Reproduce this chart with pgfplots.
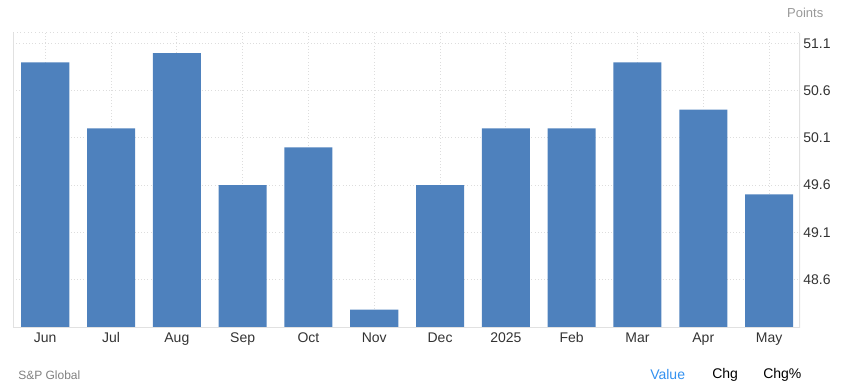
\documentclass[border=0pt]{standalone}
\usepackage{pgfplots}
\pgfplotsset{compat=1.18}
\usepackage{fontspec}
\setmainfont{Liberation Sans}
\definecolor{barblue}{RGB}{78,129,189}
\definecolor{gridc}{RGB}{221,221,221}
\definecolor{axc}{RGB}{225,225,225}
\definecolor{tickc}{RGB}{51,51,51}
\definecolor{valblue}{RGB}{51,145,240}
\begin{document}
\begin{tikzpicture}
\path[use as bounding box] (0,0) rectangle (632.25pt,291pt);
\begin{axis}[
  at={(9.75pt,45.2pt)}, anchor=south west,
  scale only axis, width=590.25pt, height=221.25pt,
  xmin=-0.49, xmax=11.47, ymin=48.087, ymax=51.215,
  ybar, bar width=0.73,
  xtick={0,...,11},
  xticklabels={Jun,Jul,Aug,Sep,Oct,Nov,Dec,2025,Feb,Mar,Apr,May},
  ytick={48.6,49.1,49.6,50.1,50.6,51.1},
  ytick pos=right, xtick pos=bottom,
  major tick length=0pt,
  yticklabel style={/pgf/number format/fixed,/pgf/number format/precision=1,/pgf/number format/fixed zerofill, font=\fontsize{10.5}{12}\selectfont, text=tickc, xshift=-1pt},
  xticklabel style={font=\fontsize{10.5}{12}\selectfont, text=tickc},
  /pgf/number format/assume math mode=true,
  grid=major,
  major grid style={gridc, dotted, line width=0.75pt},
  axis line style={draw=none},
]
\addplot[fill=barblue, draw=none] coordinates {
 (0,50.9) (1,50.2) (2,51.0) (3,49.6) (4,50.0) (5,48.28)
 (6,49.6) (7,50.2) (8,50.2) (9,50.9) (10,50.4) (11,49.5)};
\draw[axc, line width=1.2pt] (rel axis cs:0,1) -- (rel axis cs:0,0) -- (rel axis cs:1,0) -- (rel axis cs:1,1);
\draw[gridc, dotted, line width=0.75pt] (rel axis cs:0,1) -- (rel axis cs:1,1);
\end{axis}
\node[anchor=east, text=gray!80, font=\fontsize{9.75}{11}\selectfont] at (621pt,281.25pt) {Points};
\node[anchor=west, inner sep=0pt, text=gray, font=\fontsize{9}{11}\selectfont] at (13.5pt,9.75pt) {S\&P Global};
\node[anchor=west, inner sep=0pt, text=valblue, font=\fontsize{10.5}{12}\selectfont] at (487.5pt,9.75pt) {Value};
\node[anchor=west, inner sep=0pt, text=black, font=\fontsize{10.5}{12}\selectfont] at (534pt,9.75pt) {Chg};
\node[anchor=west, inner sep=0pt, text=black, font=\fontsize{10.5}{12}\selectfont] at (572.25pt,9.75pt) {Chg\%};
\end{tikzpicture}
\end{document}
